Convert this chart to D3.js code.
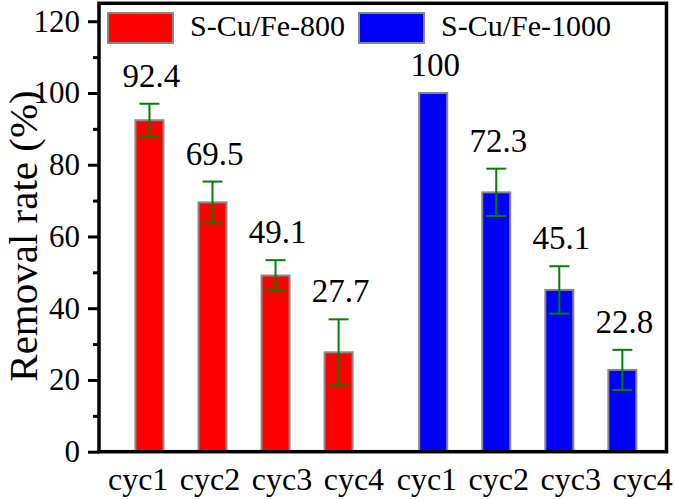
<!DOCTYPE html>
<html>
<head>
<meta charset="utf-8">
<script src="https://cdn.jsdelivr.net/npm/d3@7"></script>
<style>
  html, body { margin: 0; padding: 0; background: #fff; }
  svg { display: block; }
  svg text { font-family: "Liberation Serif", "DejaVu Serif", serif !important; fill: #000; }
</style>
</head>
<body>
<svg id="chart" width="675" height="500"></svg>
<script>
// ---- data ----
const categories = ["cyc1", "cyc2", "cyc3", "cyc4"];
const seriesNames = ["S-Cu/Fe-800", "S-Cu/Fe-1000"];
const values800 = [92.4, 69.5, 49.1, 27.7];
const errors800 = [4.6, 5.8, 4.3, 9.2];
const values1000 = [100, 72.3, 45.1, 22.8];
const errors1000 = [0, 6.6, 6.6, 5.6];
const positions800 = [1, 2, 3, 4];
const positions1000 = [5.5, 6.5, 7.5, 8.5];
const yTicks = [0, 20, 40, 60, 80, 100, 120];
const yMinorTicks = [10, 30, 50, 70, 90, 110];
const colors = ["#ff0000", "#0000ff"];

// ---- layout ----
const FONT = "Liberation Serif";
const plotLeft = 99, plotRight = 666.5, plotTop = 3.3, plotBottom = 451.7;
const svg = d3.select("#chart");

const x = d3.scaleLinear().domain([0.2, 9.2]).range([plotLeft, plotRight]);
const y = d3.scaleLinear().domain([0, 125]).range([plotBottom, plotTop]);

const bars = [];
categories.forEach((c, i) => {
  bars.push({ cat: c, pos: positions800[i], v: values800[i], e: errors800[i], s: 0 });
});
categories.forEach((c, i) => {
  bars.push({ cat: c, pos: positions1000[i], v: values1000[i], e: errors1000[i], s: 1 });
});

const barW = 28;

// bars
svg.append("g").selectAll("rect").data(bars).join("rect")
  .attr("x", d => x(d.pos) - barW / 2)
  .attr("y", d => y(d.v))
  .attr("width", barW)
  .attr("height", d => y(0) - y(d.v))
  .attr("fill", d => colors[d.s])
  .attr("stroke", "#888888")
  .attr("stroke-width", 2);

// error bars
const eg = svg.append("g").attr("stroke", "#008000").attr("stroke-width", 2);
bars.filter(d => d.e > 0).forEach(d => {
  const cx = x(d.pos);
  eg.append("line").attr("x1", cx).attr("x2", cx).attr("y1", y(d.v + d.e)).attr("y2", y(d.v - d.e));
  eg.append("line").attr("x1", cx - 10).attr("x2", cx + 10).attr("y1", y(d.v + d.e)).attr("y2", y(d.v + d.e));
  eg.append("line").attr("x1", cx - 10).attr("x2", cx + 10).attr("y1", y(d.v - d.e)).attr("y2", y(d.v - d.e));
});

// value labels
svg.append("g").attr("font-family", FONT).selectAll("text").data(bars).join("text")
  .attr("x", d => x(d.pos) + 2)
  .attr("y", d => y(d.v + d.e) - 17)
  .attr("text-anchor", "middle")
  .attr("font-family", FONT)
  .attr("font-size", 33)
  .text(d => String(d.v));

// y axis ticks
const yAxis = d3.axisLeft(y).tickValues(yTicks).tickSize(11).tickPadding(8)
  .tickFormat(d3.format("d"));
const gy = svg.append("g").attr("transform", `translate(${plotLeft},0)`).call(yAxis)
  .attr("font-family", FONT);
gy.select(".domain").remove();
gy.selectAll(".tick line").attr("stroke", "#000").attr("stroke-width", 3);
gy.selectAll(".tick text").attr("font-size", 31).attr("font-family", FONT).attr("fill", "#000");

const yMinor = d3.axisLeft(y).tickValues(yMinorTicks).tickSize(6).tickFormat("");
const gym = svg.append("g").attr("transform", `translate(${plotLeft},0)`).call(yMinor);
gym.select(".domain").remove();
gym.selectAll(".tick line").attr("stroke", "#000").attr("stroke-width", 3);

// x labels: one text line per group ("cyc1 cyc2 cyc3 cyc4"), centred under the group
const groupCentres = [d3.mean(positions800), d3.mean(positions1000)];
svg.append("g").selectAll("text").data(groupCentres).join("text")
  .attr("x", (d, i) => x(d) + (i === 0 ? 2 : 7))
  .attr("y", plotBottom + 38)
  .attr("text-anchor", "middle")
  .attr("font-family", FONT)
  .attr("font-size", 32)
  .attr("word-spacing", 3.5)
  .text(categories.join(" "));

// frame
svg.append("rect")
  .attr("x", plotLeft).attr("y", plotTop)
  .attr("width", plotRight - plotLeft).attr("height", plotBottom - plotTop)
  .attr("fill", "none").attr("stroke", "#000").attr("stroke-width", 3.5);

// y title
svg.append("text")
  .attr("transform", "translate(37,236) rotate(-90)")
  .attr("text-anchor", "middle")
  .attr("font-family", FONT)
  .attr("font-size", 41)
  .text("Removal rate (%)");

// legend
const legend = svg.append("g").attr("font-family", FONT);
const legItems = [
  { name: seriesNames[0], color: colors[0], x0: 108 },
  { name: seriesNames[1], color: colors[1], x0: 359 }
];
legItems.forEach(l => {
  legend.append("rect").attr("x", l.x0).attr("y", 13).attr("width", 65).attr("height", 30)
    .attr("fill", l.color).attr("stroke", "#888888").attr("stroke-width", 2);
  legend.append("text").attr("x", l.x0 + 82).attr("y", 36)
    .attr("font-family", FONT).attr("font-size", 30).text(l.name);
});
</script>
</body>
</html>
